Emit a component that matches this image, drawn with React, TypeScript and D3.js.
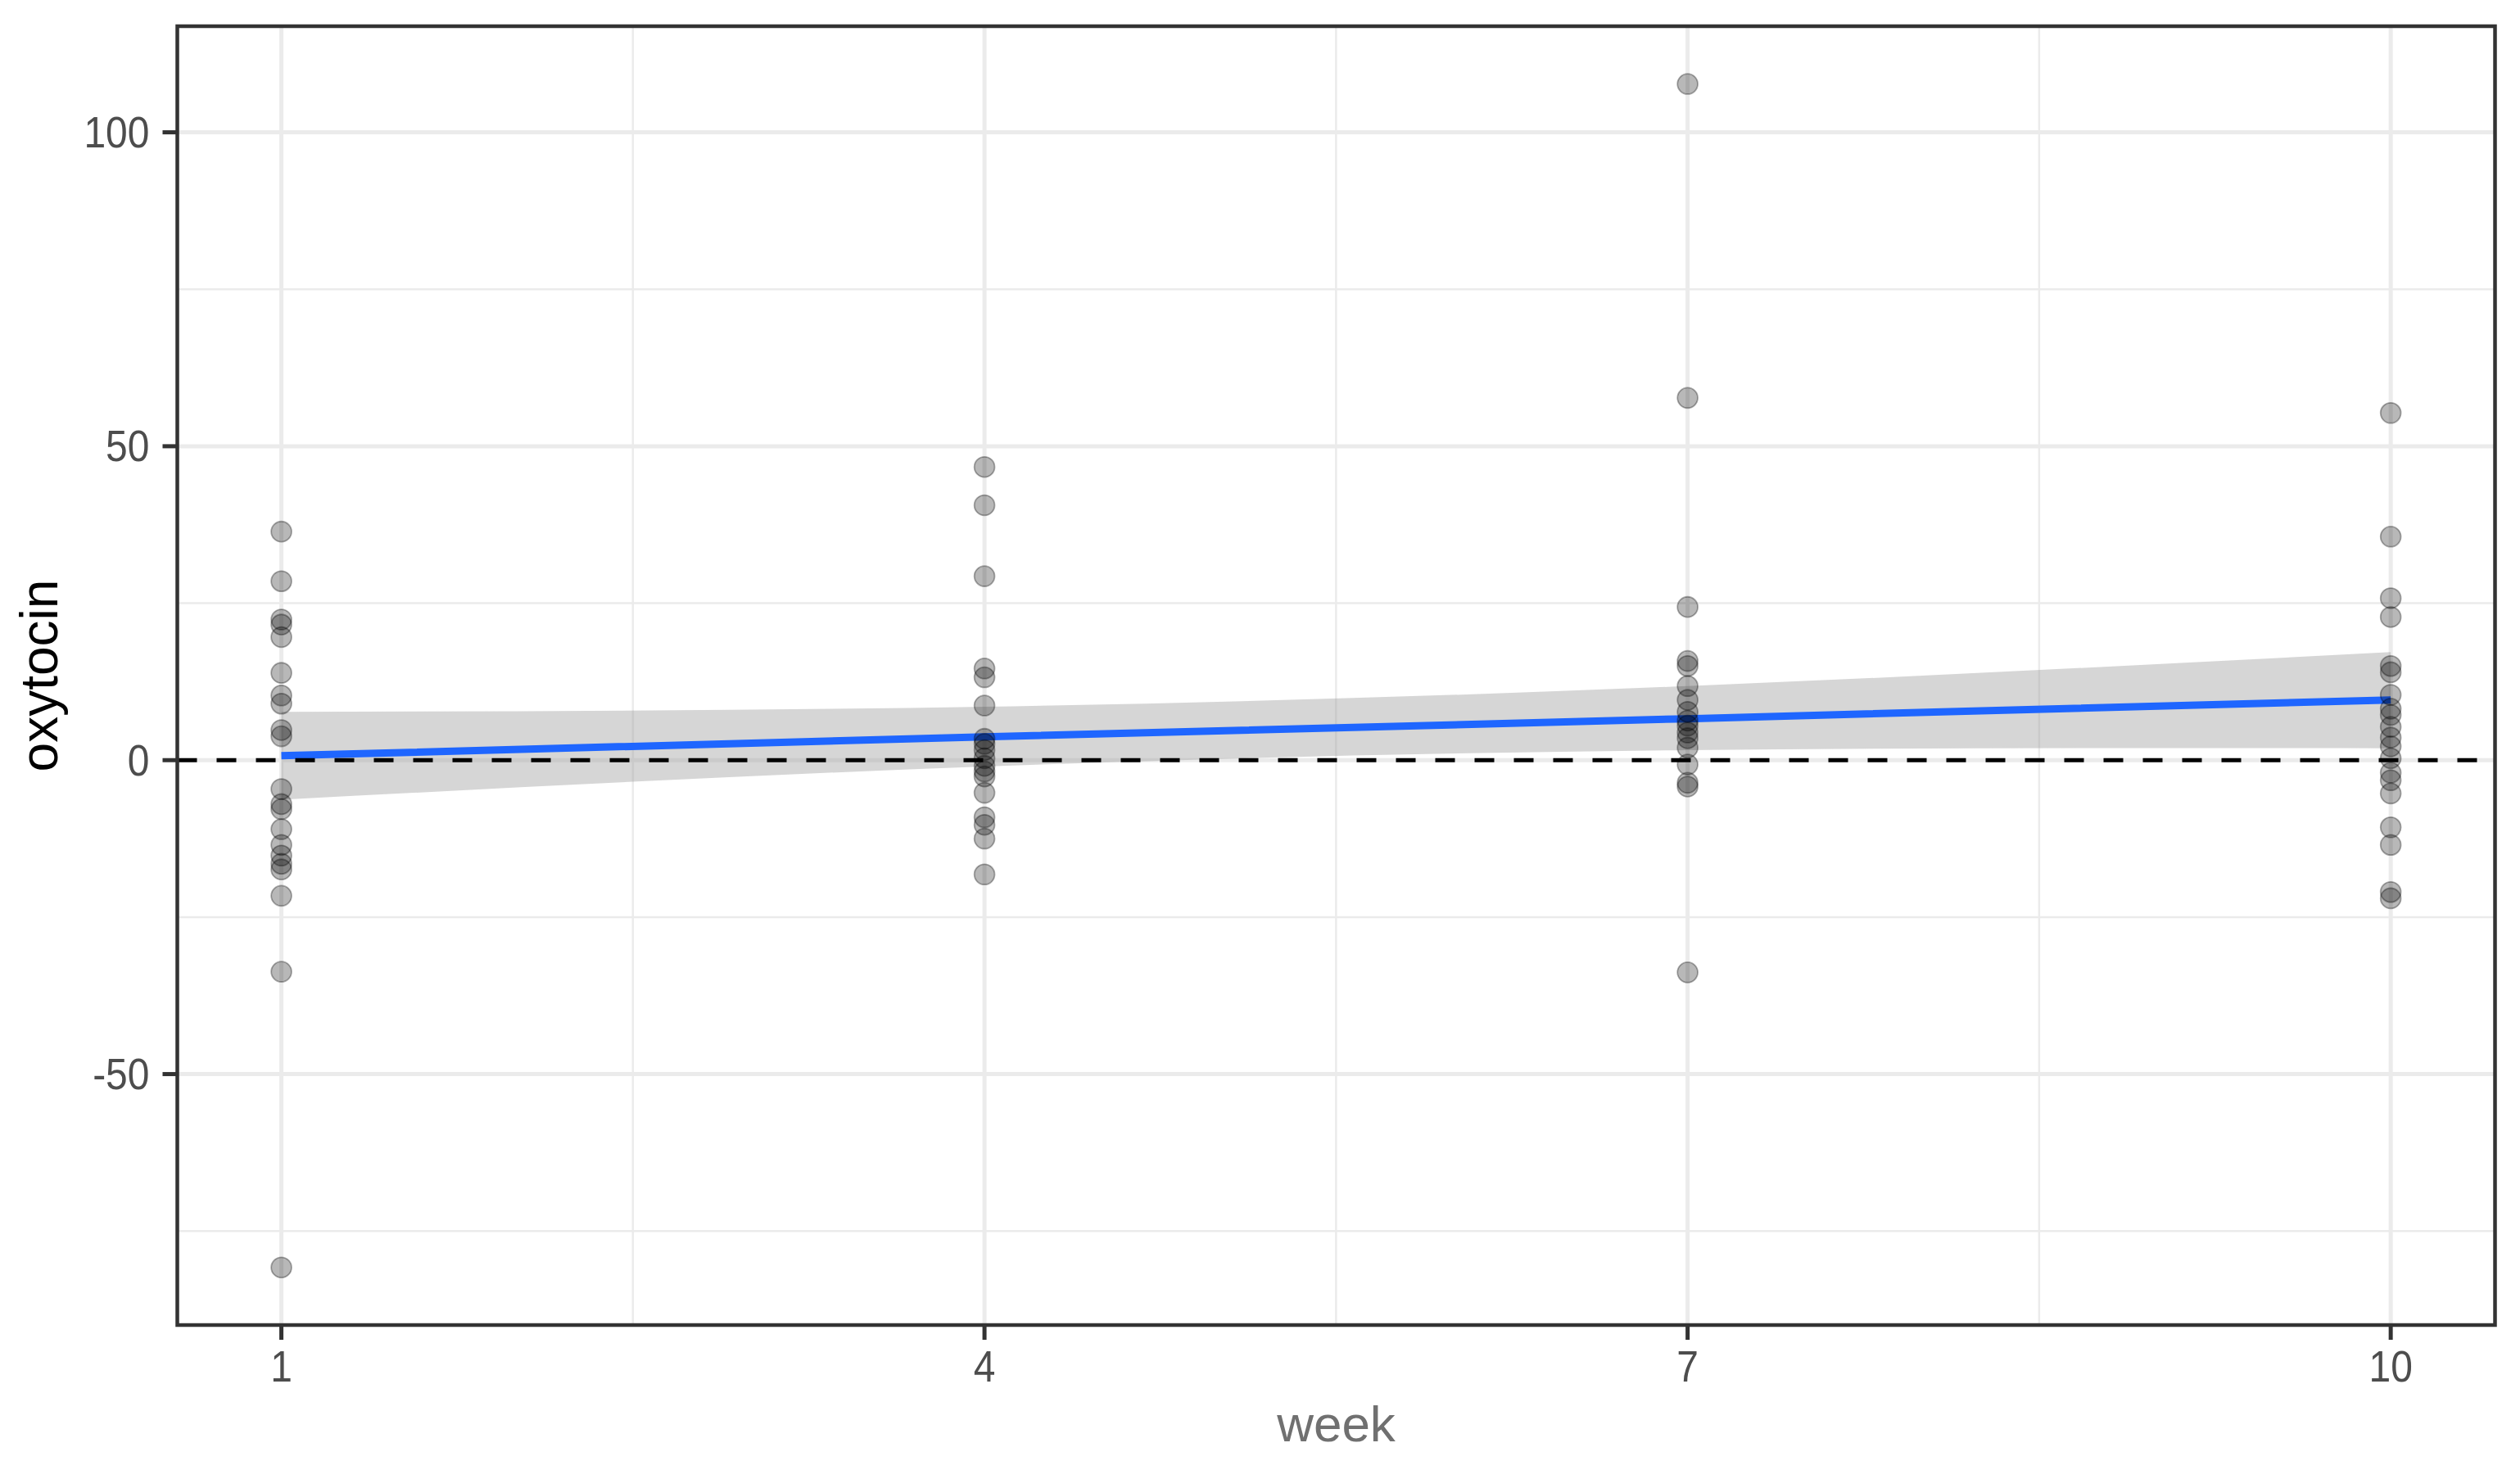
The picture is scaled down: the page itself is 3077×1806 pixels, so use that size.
import * as d3 from "d3";

const weeks = [1, 4, 7, 10];
const week1 = [36.4, 28.5, 22.4, 21.6, 19.6, 13.9, 10.3, 9.0, 4.8, 3.8, -4.6, -7.0, -7.8, -11.0, -13.5, -15.2, -16.5, -17.4, -21.6, -33.7, -80.8];
const week4 = [46.7, 40.6, 29.3, 14.6, 13.2, 8.7, 3.4, 2.6, 1.6, 0.3, -0.9, -1.8, -2.6, -5.2, -9.1, -10.3, -12.5, -18.2];
const week7 = [107.7, 57.7, 24.4, 15.8, 15.0, 11.8, 9.6, 7.7, 6.3, 5.5, 4.4, 3.5, 2.0, -0.7, -3.6, -4.2, -33.8];
const week10 = [55.3, 35.6, 25.8, 22.8, 15.0, 14.0, 10.4, 8.2, 7.2, 5.3, 3.6, 2.2, 0.3, -2.0, -3.2, -5.3, -10.7, -13.5, -21.0, -22.0];

// linear smooth and its confidence band, read at the weeks
const fitMean = [0.7, 3.7, 6.6, 9.6];
const fitLower = [-6.3, -1.0, 1.6, 1.9];
const fitUpper = [7.7, 8.5, 11.8, 17.2];

const yTicks = [-50, 0, 50, 100];
const yMinor = [-75, -25, 25, 75];
const xTicks = [1, 4, 7, 10];
const xMinor = [2.5, 5.5, 8.5];

const W = 3077;
const H = 1806;
const left = 216.5;
const right = 3046.5;
const top = 32;
const bottom = 1618;
const font = "'Liberation Sans', Arial, Helvetica, sans-serif";

export default function App() {
  const x = d3.scaleLinear().domain([0.556, 10.445]).range([left, right]);
  const y = d3.scaleLinear().domain([-89.97, 116.9]).range([bottom, top]);

  const points = [week1, week4, week7, week10].flatMap((vals, i) =>
    vals.map((v) => ({ week: weeks[i], value: v }))
  );

  const band = d3
    .area<number>()
    .x((_, i) => x(weeks[i]))
    .y0((_, i) => y(fitLower[i]))
    .y1((_, i) => y(fitUpper[i]))
    .curve(d3.curveNatural);

  const line = d3
    .line<number>()
    .x((_, i) => x(weeks[i]))
    .y((d) => y(d));

  return (
    <svg
      width={W}
      height={H}
      style={{ position: "absolute", left: 0, top: 0, background: "#fff" }}
      fontFamily={font}
    >
      <rect x={0} y={0} width={W} height={H} fill="#fff" />

      {/* minor grid */}
      {yMinor.map((t) => (
        <line key={"ym" + t} x1={left} x2={right} y1={y(t)} y2={y(t)} stroke="#ebebeb" strokeWidth={2.5} />
      ))}
      {xMinor.map((t) => (
        <line key={"xm" + t} x1={x(t)} x2={x(t)} y1={top} y2={bottom} stroke="#ebebeb" strokeWidth={2.5} />
      ))}
      {/* major grid */}
      {yTicks.map((t) => (
        <line key={"yg" + t} x1={left} x2={right} y1={y(t)} y2={y(t)} stroke="#ebebeb" strokeWidth={5} />
      ))}
      {xTicks.map((t) => (
        <line key={"xg" + t} x1={x(t)} x2={x(t)} y1={top} y2={bottom} stroke="#ebebeb" strokeWidth={5} />
      ))}

      {/* smooth */}
      <path d={band(fitMean) ?? ""} fill="#999999" fillOpacity={0.4} />
      <path d={line(fitMean) ?? ""} fill="none" stroke="#1f66ff" strokeWidth={9} />

      {/* reference line at zero */}
      <line
        x1={left}
        x2={right}
        y1={y(0)}
        y2={y(0)}
        stroke="#000"
        strokeWidth={5}
        strokeDasharray="24 24"
      />

      {/* points */}
      {points.map((p, i) => (
        <circle
          key={i}
          cx={x(p.week)}
          cy={y(p.value)}
          r={12.4}
          fill="rgba(0,0,0,0.28)"
          stroke="rgba(0,0,0,0.32)"
          strokeWidth={1.8}
        />
      ))}

      {/* panel border */}
      <rect
        x={left}
        y={top}
        width={right - left}
        height={bottom - top}
        fill="none"
        stroke="#333333"
        strokeWidth={4.5}
      />

      {/* y axis */}
      {yTicks.map((t) => (
        <g key={"yt" + t}>
          <line x1={left - 18} x2={left} y1={y(t)} y2={y(t)} stroke="#333333" strokeWidth={5} />
          <text
            transform={`translate(${left - 34},${y(t)}) scale(0.96,1.06)`}
            textAnchor="end"
            dominantBaseline="central"
            fontSize={50}
            fill="#4d4d4d"
          >
            {t}
          </text>
        </g>
      ))}

      {/* x axis */}
      {xTicks.map((t) => (
        <g key={"xt" + t}>
          <line x1={x(t)} x2={x(t)} y1={bottom} y2={bottom + 18} stroke="#333333" strokeWidth={5} />
          <text
            transform={`translate(${x(t)},1687) scale(0.96,1.06)`}
            textAnchor="middle"
            fontSize={50}
            fill="#4d4d4d"
          >
            {t}
          </text>
        </g>
      ))}

      {/* axis titles */}
      <text
        transform={`translate(70,${(top + bottom) / 2}) rotate(-90)`}
        textAnchor="middle"
        fontSize={64}
        fill="#000"
      >
        oxytocin
      </text>
      <text x={(left + right) / 2} y={1760} textAnchor="middle" fontSize={62} fill="#707070">
        week
      </text>
    </svg>
  );
}
